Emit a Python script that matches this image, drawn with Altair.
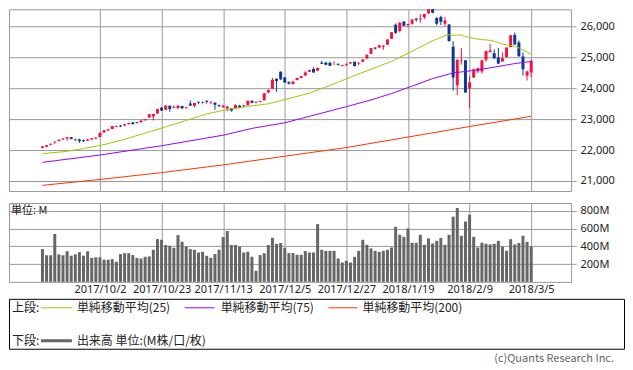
import altair as alt
import pandas as pd

# ---------------- data ----------------
tick_idx = [14, 29, 44, 59, 74, 89, 104, 119]
tick_labels = ["2017/10/2", "2017/10/23", "2017/11/13", "2017/12/5",
               "2017/12/27", "2018/1/19", "2018/2/9", "2018/3/5"]

opens = [22070, 22110, 22170, 22240, 22290, 22340, 22370, 22410, 22320, 22340,
         22320, 22300, 22340, 22370, 22420, 22570, 22630, 22680, 22750, 22790,
         22790, 22840, 22890, 22895, 22900, 22960, 23050, 23080, 23180, 23370,
         23300, 23430, 23370, 23360, 23420, 23350, 23500, 23430, 23560, 23530,
         23590, 23540, 23530, 23450, 23380, 23340, 23340, 23340, 23430, 23450,
         23450, 23590, 23535, 23550, 23610, 23860, 23980, 24300, 24530, 24340,
         24190, 24130, 24260, 24330, 24410, 24530, 24620, 24560, 24820, 24830,
         24820, 24770, 24785, 24720, 24740, 24800, 24850, 24800, 24850, 24960,
         25110, 25310, 25310, 25340, 25400, 25600, 26050, 25850, 26150, 26040,
         26080, 26240, 26230, 26290, 26420, 26580, 26270, 26300, 26080, 26060,
         25340, 24085, 24870, 24900, 23990, 24340, 24540, 24535, 24920, 25165,
         25124, 24988, 24857, 25003, 25331, 25714, 25475, 25024, 24402, 24505]
highs = [22130, 22165, 22210, 22290, 22340, 22380, 22420, 22420, 22360, 22370,
         22340, 22370, 22390, 22410, 22560, 22645, 22680, 22780, 22790, 22810,
         22840, 22880, 22910, 22910, 22960, 23000, 23170, 23170, 23330, 23390,
         23450, 23440, 23440, 23450, 23430, 23400, 23600, 23520, 23560, 23570,
         23600, 23570, 23540, 23470, 23450, 23420, 23360, 23480, 23460, 23460,
         23600, 23600, 23570, 23600, 23850, 23960, 24330, 24310, 24540, 24350,
         24220, 24220, 24340, 24390, 24550, 24600, 24670, 24670, 24880, 24840,
         24850, 24870, 24790, 24760, 24810, 24840, 24860, 24830, 24940, 25100,
         25300, 25320, 25400, 25400, 25580, 25810, 26090, 26130, 26160, 26080,
         26220, 26270, 26390, 26400, 26617, 26610, 26290, 26340, 26300, 26070,
         25520, 24946, 25293, 24903, 24382, 24640, 24660, 24920, 25210, 25430,
         25250, 25300, 25150, 25310, 25710, 25800, 25540, 25150, 24560, 24930]
lows = [22060, 22095, 22150, 22200, 22280, 22330, 22300, 22340, 22300, 22230,
        22260, 22290, 22330, 22350, 22415, 22560, 22620, 22670, 22740, 22740,
        22770, 22820, 22820, 22860, 22890, 22950, 23040, 22960, 23170, 23260,
        23290, 23240, 23360, 23320, 23320, 23340, 23420, 23380, 23480, 23500,
        23500, 23480, 23300, 23380, 23370, 23250, 23240, 23330, 23350, 23370,
        23440, 23510, 23510, 23540, 23600, 23840, 23970, 23880, 24260, 24170,
        24120, 24110, 24250, 24320, 24400, 24520, 24500, 24550, 24780, 24740,
        24710, 24760, 24730, 24700, 24730, 24790, 24700, 24740, 24840, 24950,
        25100, 25240, 25300, 25240, 25390, 25590, 25750, 25800, 26000, 25970,
        26050, 26150, 26110, 26230, 26390, 26420, 26030, 26040, 26000, 25500,
        23924, 23778, 24760, 23849, 23360, 24330, 24490, 24470, 24850, 25150,
        24940, 24780, 24850, 24990, 25320, 25400, 25020, 24404, 24246, 24350]
closes = [22118, 22158, 22203, 22268, 22331, 22370, 22412, 22359, 22349, 22296,
          22284, 22340, 22381, 22405, 22557, 22641, 22661, 22775, 22773, 22761,
          22831, 22872, 22841, 22871, 22957, 22998, 23158, 23163, 23329, 23274,
          23441, 23329, 23401, 23434, 23349, 23377, 23436, 23517, 23539, 23549,
          23557, 23563, 23462, 23422, 23440, 23409, 23272, 23458, 23358, 23430,
          23591, 23526, 23558, 23580, 23836, 23940, 24272, 24232, 24290, 24180,
          24140, 24211, 24329, 24387, 24504, 24585, 24509, 24652, 24792, 24754,
          24726, 24782, 24754, 24746, 24774, 24838, 24719, 24824, 24922, 25075,
          25296, 25283, 25386, 25370, 25575, 25803, 25792, 26116, 26017, 26071,
          26215, 26211, 26252, 26393, 26617, 26439, 26077, 26149, 26186, 25521,
          24346, 24912, 24893, 23860, 24191, 24601, 24640, 24893, 25200, 25219,
          24964, 24798, 24963, 25310, 25709, 25410, 25029, 24608, 24538, 24874]
volumes = [370, 300, 300, 540, 310, 300, 345, 295, 310, 335,
           295, 345, 270, 277, 277, 250, 250, 256, 227, 313,
           324, 324, 302, 270, 263, 283, 287, 362, 482, 475,
           415, 407, 384, 528, 452, 399, 369, 362, 331, 339,
           294, 271, 313, 362, 505, 573, 415, 415, 396, 331,
           339, 283, 124, 302, 324, 415, 497, 429, 437, 384,
           324, 324, 305, 305, 347, 331, 331, 652, 362, 350,
           350, 350, 264, 218, 237, 218, 282, 350, 475, 418,
           377, 350, 339, 350, 362, 388, 622, 531, 508, 603,
           441, 441, 531, 418, 490, 433, 463, 494, 418, 531,
           735, 833, 520, 681, 757, 508, 388, 441, 429, 422,
           429, 463, 396, 350, 482, 422, 437, 520, 452, 399]

ma25_idx = [0, 5, 10, 15, 20, 25, 30, 35, 40, 45, 50, 55, 60, 65, 70, 75, 80, 85, 90,
            95, 96, 97, 98, 99, 100, 101, 102, 103, 104, 105, 106, 107, 108, 109,
            110, 111, 112, 113, 114, 115, 116, 117, 118, 119]
ma25_val = [21884, 21944, 22046, 22175, 22349, 22548, 22749, 22957, 23168, 23308,
            23410, 23493, 23662, 23839, 24084, 24356, 24612, 24864, 25192,
            25531, 25583, 25638, 25696, 25726, 25706, 25714, 25717, 25674, 25639,
            25611, 25585, 25566, 25559, 25545, 25511, 25471, 25425, 25397, 25382,
            25350, 25303, 25237, 25163, 25093]
ma75_idx = [0, 14, 29, 44, 51, 59, 63, 74, 75, 80, 85, 90, 95, 100, 105, 110, 115, 119]
ma75_val = [21603, 21839, 22139, 22480, 22700, 22880, 23020, 23402, 23438, 23618,
            23828, 24066, 24308, 24491, 24572, 24679, 24794, 24862]
ma200_idx = [0, 14, 29, 44, 59, 74, 89, 104, 119]
ma200_val = [20860, 21050, 21270, 21520, 21800, 22080, 22420, 22760, 23090]

price_ticks = [21000, 22000, 23000, 24000, 25000, 26000]
volume_ticks = [200, 400, 600, 800]
ma_names = ["単純移動平均(25)", "単純移動平均(75)", "単純移動平均(200)"]
ma_colors = ["#99cc00", "#9900ff", "#ff3300"]

# ---------------- tables ----------------
n = len(closes)
candles = pd.DataFrame({
    "i": list(range(n)), "o": opens, "h": highs, "l": lows, "c": closes,
})
candles["dir"] = ["up" if c >= o else "down" for o, c in zip(opens, closes)]
vol_df = pd.DataFrame({"i": list(range(n)), "v": volumes})
ma_df = pd.concat([
    pd.DataFrame({"i": ma25_idx, "val": ma25_val, "s": ma_names[0]}),
    pd.DataFrame({"i": ma75_idx, "val": ma75_val, "s": ma_names[1]}),
    pd.DataFrame({"i": ma200_idx, "val": ma200_val, "s": ma_names[2]}),
])
one = pd.DataFrame({"k": [0]})

GRID = "#999999"
NUMFONT = "Noto Sans"
JPFONT = "Noto Sans CJK JP"
W = 563

xscale = alt.Scale(domain=[-6.93, 127.5], nice=False, zero=False)
x_price = alt.X("i:Q", scale=xscale, title=None,
                axis=alt.Axis(values=tick_idx, labels=False, ticks=False, domain=False,
                              grid=True, gridColor=GRID, gridOpacity=1,
                              minExtent=0, maxExtent=0))

label_expr = "''"
for v, lab in reversed(list(zip(tick_idx, tick_labels))):
    label_expr = f"datum.value == {v} ? '{lab}' : ({label_expr})"
x_vol = alt.X("i:Q", scale=xscale, title=None,
              axis=alt.Axis(values=tick_idx, labelExpr=label_expr, ticks=False, domain=False,
                            grid=True, gridColor=GRID, gridOpacity=1, labelPadding=2,
                            labelFont=NUMFONT, labelFontSize=11, labelColor="#222",
                            labelOverlap=False, labelFlush=False,
                            minExtent=14, maxExtent=14))

pscale = alt.Scale(domain=[20677, 26548], nice=False, zero=False)
paxis = alt.Axis(orient="right", values=price_ticks, labelExpr="format(datum.value, ',.0f')",
                 grid=True, gridColor=GRID, gridOpacity=1, tickColor=GRID, tickSize=5,
                 domain=False, labelPadding=4, labelFont=NUMFONT, labelFontSize=11,
                 labelColor="#222", title=None)

cscale = alt.Scale(domain=["up", "down"], range=["#f5123e", "#0b3796"])

base_c = alt.Chart(candles)
wick = base_c.mark_rule(strokeWidth=1, clip=True).encode(
    x=x_price,
    y=alt.Y("l:Q", scale=pscale, axis=paxis),
    y2="h:Q",
    color=alt.Color("dir:N", scale=cscale, legend=None),
)
body = base_c.mark_bar(size=3, clip=True).encode(
    x=x_price,
    y=alt.Y("o:Q", scale=pscale, axis=paxis),
    y2="c:Q",
    color=alt.Color("dir:N", scale=cscale, legend=None),
)
ma_lines = alt.Chart(ma_df).mark_line(strokeWidth=1, clip=True).encode(
    x=x_price,
    y=alt.Y("val:Q", scale=pscale, axis=paxis),
    detail="s:N",
    stroke=alt.Stroke("s:N", scale=alt.Scale(domain=ma_names, range=ma_colors), legend=None),
)
price = alt.layer(wick, body, ma_lines).properties(width=W, height=182)

vbars = alt.Chart(vol_df).mark_bar(size=3, color="#666666").encode(
    x=x_vol,
    y=alt.Y("v:Q", scale=alt.Scale(domain=[0, 890], nice=False),
            axis=alt.Axis(orient="right", values=volume_ticks, labelExpr="datum.value + 'M'",
                          grid=True, gridColor=GRID, gridOpacity=1, tickColor=GRID,
                          tickSize=5, domain=False, labelPadding=4, labelFont=NUMFONT,
                          labelFontSize=11, labelColor="#222", title=None)),
)
unit = alt.Chart(one).mark_text(align="left", baseline="middle", font=JPFONT,
                                fontSize=11, color="#222").encode(
    x=alt.value(2), y=alt.value(8), text=alt.value("単位: M"))
volume = alt.layer(vbars, unit).properties(width=W, height=79)


def txt(s, x, y, align="left", size=12, color="#222"):
    return alt.Chart(one).mark_text(align=align, baseline="middle", font=JPFONT,
                                    fontSize=size, color=color).encode(
        x=alt.value(x), y=alt.value(y), text=alt.value(s))


def seg(x1, x2, y, color, w=1):
    return alt.Chart(one).mark_rule(color=color, strokeWidth=w).encode(
        x=alt.value(x1), x2=alt.value(x2), y=alt.value(y))


R1, R2 = 9, 42
legend = alt.layer(
    txt("上段:", 3, R1),
    seg(32, 63, R1, ma_colors[0]), txt(ma_names[0], 68, R1),
    seg(176, 206, R1, ma_colors[1]), txt(ma_names[1], 212, R1),
    seg(320, 349, R1, ma_colors[2]), txt(ma_names[2], 354, R1),
    txt("下段:", 3, R2),
    seg(32, 63, R2, "#666666", 3), txt("出来高 単位:(M株/口/枚)", 68, R2),
    txt("(c)Quants Research Inc.", 606, 60, align="right", size=11, color="#666"),
).properties(width=616, height=50, view=alt.ViewBackground(stroke="#000", strokeWidth=1))

chart = alt.vconcat(
    alt.vconcat(price, volume, spacing=10),
    legend, spacing=1,
).properties(padding=0, background="white").configure_view(stroke=GRID, strokeWidth=1)

chart.save("out.html", embed_options={"renderer": "svg", "actions": False})
